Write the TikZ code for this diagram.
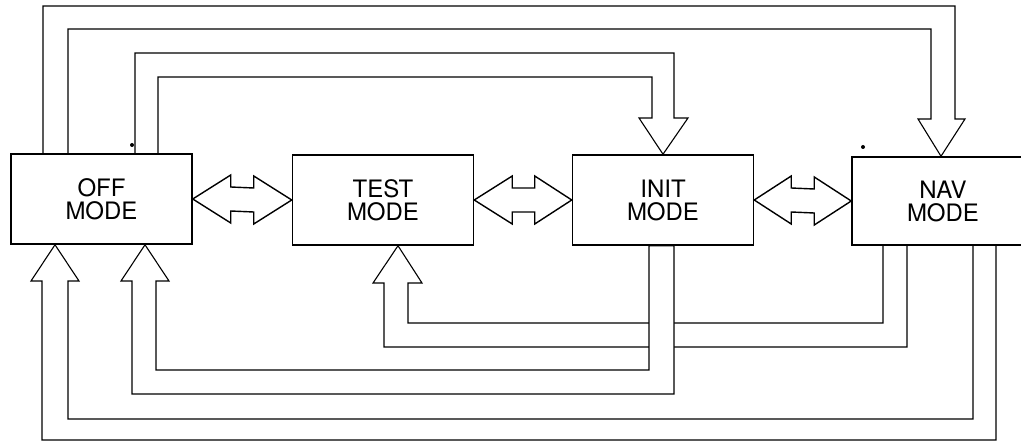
\documentclass[tikz,border=0pt]{standalone}
\usepackage{fontspec}
\newfontfamily\heros{TeX Gyre Heros}
\usetikzlibrary{calc}
\begin{document}
\begin{tikzpicture}[x=1pt,y=-1pt,
  box/.style={draw,line width=1.5pt,minimum width=181pt,minimum height=90pt,inner sep=0pt,
    align=center,font=\heros\fontsize{24}{23}\selectfont},
  pipe/.style={draw,line width=1.1pt,line join=miter},
  fat/.style={draw,line width=1.4pt,line join=miter,fill=white},
  speck/.style={fill=black,circle,inner sep=0pt,minimum size=4pt}]
\path[use as bounding box] (0,0) rectangle (1021,443);
\clip (0,0) rectangle (1021,443);
% boxes
\node[box] (off)  at (101.5,199) {OFF\\MODE};
\node[box] (test) at (383,200) {TEST\\MODE};
\node[box] (init) at (663,200) {INIT\\MODE};
\node[box,minimum width=182pt,minimum height=88pt] (nav) at (943,201) {NAV\\MODE};
% specks
\node[speck] (s1) at (132,145) {};
\node[speck] (s2) at (863,147) {};
% double arrows between neighbouring modes
\draw[fat] (off.east) -- ++(38,-24) -- ++(0,12) -- ($(test.west)+(-38,-12)$) -- ++(0,-12) -- (test.west)
  -- ++(-38,24) -- ++(0,-12) -- ($(off.east)+(38,12)$) -- ++(0,12) -- cycle;
\draw[fat] (test.east) -- ++(38,-24) -- ++(0,12) -- ($(init.west)+(-37,-12)$) -- ++(0,-12) -- (init.west)
  -- ++(-37,24) -- ++(0,-12) -- ($(test.east)+(38,12)$) -- ++(0,12) -- cycle;
\draw[fat] (init.east) -- ++(37,-24) -- ++(0,12) -- ($(nav.west)+(-37,-12)$) -- ++(0,-12) -- (nav.west)
  -- ++(-37,24) -- ++(0,-12) -- ($(init.east)+(37,12)$) -- ++(0,12) -- cycle;
% OFF -> NAV (top, outer)
\draw[pipe] (43,0 |- off.north) -- (43,6) -- (955,6) -- (955,119) -- (965,119) -- (941,0 |- nav.north)
  -- (918,119) -- (931,119) -- (931,29) -- (68,29) -- (68,0 |- off.north);
% OFF -> INIT (top, inner)
\draw[pipe] (135,0 |- off.north) -- (135,53) -- (674,53) -- (674,118) -- (688,118) -- (663,0 |- init.north)
  -- (639,118) -- (652,118) -- (652,77) -- (158,77) -- (158,0 |- off.north);
% NAV -> TEST (passes under INIT -> OFF)
\draw[pipe] (883,0 |- nav.south) -- (883,323) -- (408,323) -- (408,283) -- (422,283) -- (398,0 |- test.south)
  -- (373,283) -- (384,283) -- (384,347) -- (907,347) -- (907,0 |- nav.south);
% INIT -> OFF
\filldraw[pipe,fill=white] (649,0 |- init.south) -- (649,370) -- (156,370) -- (156,281) -- (169,281) -- (145,0 |- off.south)
  -- (121,281) -- (132,281) -- (132,394) -- (674,394) -- (674,0 |- init.south) -- cycle;
% NAV -> OFF
\draw[pipe] (973,0 |- nav.south) -- (973,419) -- (68,419) -- (68,281) -- (79,281) -- (55,0 |- off.south)
  -- (31,281) -- (42,281) -- (42,440) -- (996,440) -- (996,0 |- nav.south);
\end{tikzpicture}
\end{document}
